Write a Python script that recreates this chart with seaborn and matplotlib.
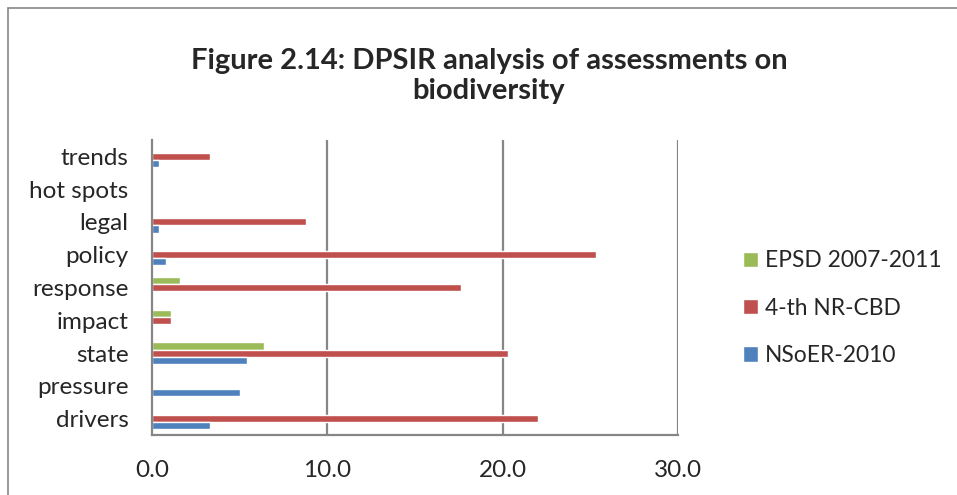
import pandas as pd
import matplotlib
matplotlib.use("Agg")
from matplotlib import pyplot as plt
from matplotlib.lines import Line2D
import seaborn as sns

# data
categories = ["trends", "hot spots", "legal", "policy", "response",
              "impact", "state", "pressure", "drivers"]
series_names = ["EPSD 2007-2011", "4-th NR-CBD", "NSoER-2010"]
epsd = [0, 0, 0, 0, 1.6, 1.1, 6.4, 0, 0]
nr_cbd = [3.3, 0, 8.8, 25.3, 17.6, 1.1, 20.3, 0, 22.0]
nsoer = [0.4, 0, 0.4, 0.8, 0, 0, 5.4, 5.0, 3.3]
x_ticks = [0, 10, 20, 30]
colors = ["#9BBB59", "#C0504D", "#4F81BD"]

rows = []
for name, vals in zip(series_names, [epsd, nr_cbd, nsoer]):
    for cat, v in zip(categories, vals):
        rows.append({"category": cat, "series": name, "value": v})
df = pd.DataFrame(rows)

sns.set_style("white")
plt.rcParams['font.family'] = ['Lato', 'DejaVu Sans']

fig = plt.figure(figsize=(9.57, 4.95), dpi=100)
ax = fig.add_axes([152 / 957, 1 - 435 / 495, 526 / 957, 295 / 495])

sns.barplot(data=df, y="category", x="value", hue="series",
            order=categories, hue_order=series_names, palette=colors,
            orient="h", width=0.65, saturation=1, ax=ax, legend=True)

ax.set_xlim(0, 30)
ax.set_ylim(8.5, -0.5)
ax.set_xticks(x_ticks)
ax.set_xticklabels([f"{t:.1f}" for t in x_ticks], fontsize=17.5)
ax.tick_params(axis="x", length=0, pad=18)
ax.tick_params(axis="y", length=0, pad=17, labelsize=17.5)
ax.set_xlabel("")
ax.set_ylabel("")

for t in x_ticks[1:]:
    ax.axvline(t, color="#868686", lw=1.6, zorder=0)
for side in ["top", "right"]:
    ax.spines[side].set_visible(False)
for side in ["left", "bottom"]:
    ax.spines[side].set_color("#868686")
    ax.spines[side].set_linewidth(1.6)

handles, labels = ax.get_legend_handles_labels()
ax.legend(handles, labels, loc="center left", bbox_to_anchor=(1.085, 0.43),
          frameon=False, fontsize=16.4, handlelength=0.66, handleheight=0.66,
          handletextpad=0.3, labelspacing=1.15)

fig.text(0.511, 1 - 76 / 495,
         "Figure 2.14: DPSIR analysis of assessments on\nbiodiversity",
         ha="center", va="center", fontsize=21, fontweight="bold",
         linespacing=1.2)

# chart frame (left and top edges)
fig.add_artist(Line2D([8 / 957, 8 / 957], [0, 1 - 8 / 495],
                      color="#868686", lw=1.2, transform=fig.transFigure))
fig.add_artist(Line2D([8 / 957, 1], [1 - 8 / 495, 1 - 8 / 495],
                      color="#868686", lw=1.2, transform=fig.transFigure))

fig.savefig("out.png", dpi=100)
